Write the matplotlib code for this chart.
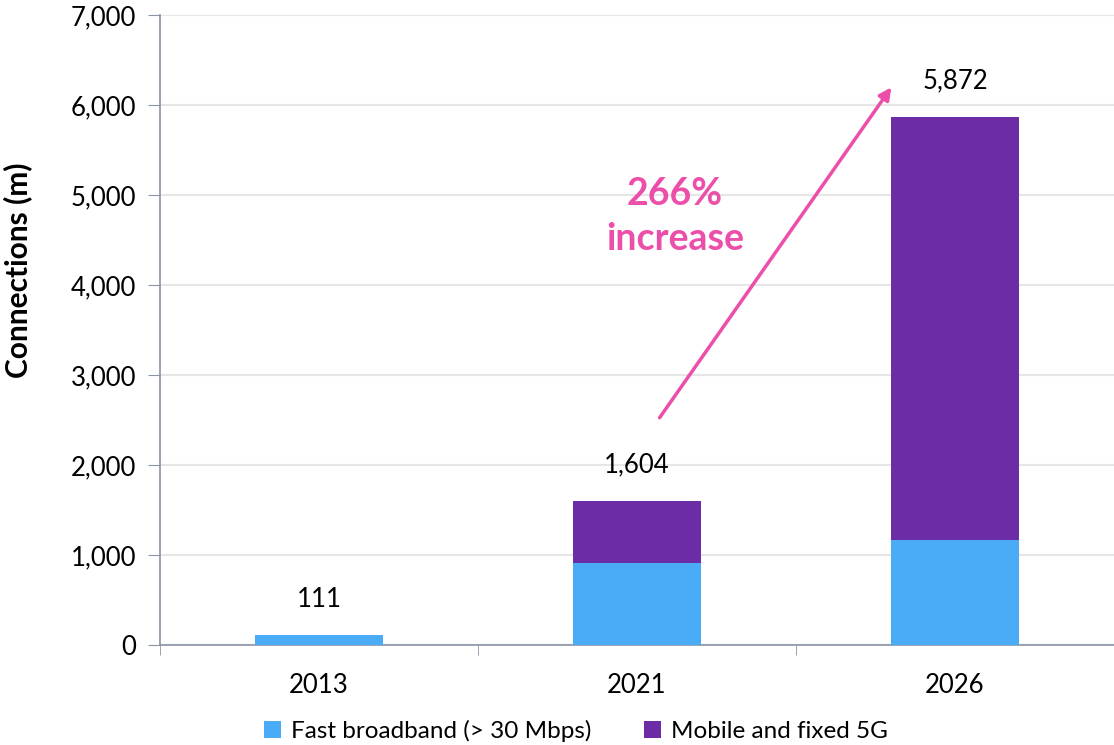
import matplotlib.pyplot as plt
from matplotlib.ticker import FuncFormatter

plt.rcParams['font.family'] = ['Lato', 'DejaVu Sans']

# data
years = ['2013', '2021', '2026']
fast_broadband = [111, 911, 1167]
mobile_5g = [0, 693, 4705]
totals = [111, 1604, 5872]

blue = '#4AACF7'
purple = '#6C2CA5'
pink = '#EC4FAA'
axis_col = '#8A94A6'

fig = plt.figure(figsize=(11.14, 7.45), dpi=100)
ax = fig.add_axes([160 / 1114, 100 / 745, 954 / 1114, 630 / 745])

x = list(range(len(years)))
ax.bar(x, fast_broadband, width=0.4, color=blue, label='Fast broadband (> 30 Mbps)', zorder=3)
ax.bar(x, mobile_5g, width=0.4, bottom=fast_broadband, color=purple,
       label='Mobile and fixed 5G', zorder=3)

# totals above the bars
for xi, t in zip(x, totals):
    ax.text(xi, t + 260, f'{t:,}', ha='center', va='bottom', fontsize=18.5, color='black')

ax.set_xlim(-0.5, 2.5)
ax.set_ylim(0, 7000)
ax.set_yticks(range(0, 7001, 1000))
ax.yaxis.set_major_formatter(FuncFormatter(lambda v, p: f'{int(v):,}'))
ax.set_xticks(x)
ax.set_xticklabels(years)
ax.set_xticks([-0.5, 0.5, 1.5, 2.5], minor=True)
ax.tick_params(axis='x', which='major', length=0, pad=20, labelsize=18.5)
ax.tick_params(axis='x', which='minor', length=7, color=axis_col, direction='out')
ax.tick_params(axis='y', length=9, color=axis_col, labelsize=18.5, pad=8)

ax.grid(axis='y', color='#E6E6E6', linewidth=1.5, zorder=0)
for s in ['top', 'right']:
    ax.spines[s].set_visible(False)
for s in ['left', 'bottom']:
    ax.spines[s].set_color(axis_col)
    ax.spines[s].set_linewidth(1.2)

ax.set_ylabel('Connections (m)', fontsize=21.5, fontweight='bold')
ax.yaxis.set_label_coords(-0.149, 0.595)
ax.yaxis.label.set_va('center')

# growth arrow and annotation
ax.annotate('', xy=(1.805, 6222), xytext=(1.066, 2500),
            arrowprops=dict(arrowstyle='-|>', color=pink, lw=2.5, mutation_scale=18),
            zorder=4)
ax.text(1.12, 4760, '266%\nincrease', ha='center', va='center', fontsize=27,
        fontweight='bold', color=pink, linespacing=1.4)

ax.legend(loc='center', bbox_to_anchor=(0.436, -0.137), ncol=2, frameon=False,
          fontsize=17.5, handlelength=0.7, handleheight=0.7, handletextpad=0.4,
          columnspacing=2.2, borderaxespad=0, borderpad=0)

fig.savefig('out.png', dpi=100)
